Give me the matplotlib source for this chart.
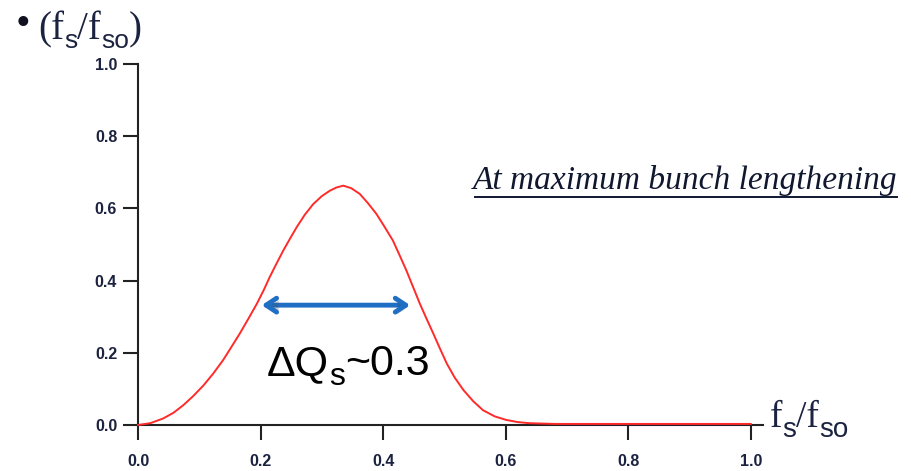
import matplotlib
matplotlib.use('Agg')
import matplotlib.pyplot as plt
import matplotlib.patheffects as pe
from matplotlib.lines import Line2D

# spectrum read at maximum bunch lengthening
fs_ratio = [0.0, 0.020, 0.041, 0.058, 0.074, 0.090, 0.107, 0.123, 0.139, 0.152,
            0.166, 0.180, 0.194, 0.205, 0.215, 0.226, 0.237, 0.248, 0.259, 0.272,
            0.286, 0.300, 0.313, 0.324, 0.335, 0.348, 0.362, 0.375, 0.389, 0.402,
            0.416, 0.427, 0.438, 0.449, 0.460, 0.471, 0.482, 0.493, 0.504, 0.517,
            0.531, 0.547, 0.563, 0.582, 0.601, 0.620, 0.639, 0.680, 0.800, 1.0]
density = [0.0, 0.005, 0.018, 0.034, 0.055, 0.080, 0.110, 0.143, 0.180, 0.215,
           0.253, 0.294, 0.336, 0.373, 0.410, 0.447, 0.483, 0.516, 0.548, 0.582,
           0.612, 0.634, 0.649, 0.658, 0.663, 0.656, 0.640, 0.615, 0.585, 0.550,
           0.511, 0.470, 0.428, 0.382, 0.336, 0.294, 0.253, 0.211, 0.170, 0.131,
           0.097, 0.066, 0.041, 0.024, 0.014, 0.008, 0.005, 0.003, 0.003, 0.003]
xticks = [0.0, 0.2, 0.4, 0.6, 0.8, 1.0]
yticks = [0.0, 0.2, 0.4, 0.6, 0.8, 1.0]
spread_lo, spread_hi, spread_y = 0.202, 0.444, 0.332

W, H = 911, 471
fig = plt.figure(figsize=(W / 100, H / 100), dpi=100)
ax = fig.add_axes([138 / W, 1 - 425 / H, 625 / W, 361 / H])
r = fig.canvas.get_renderer()

ax.plot(fs_ratio, density, color='#ff2a2a', lw=1.4, zorder=3, clip_on=False,
        solid_joinstyle='round')

ax.set_xlim(0, 1.02)
ax.set_ylim(0, 1.0)
ax.spines['top'].set_visible(False)
ax.spines['right'].set_visible(False)
for s in ('left', 'bottom'):
    ax.spines[s].set_linewidth(1.5)
    ax.spines[s].set_color('#222222')
ax.set_xticks(xticks)
ax.set_yticks(yticks)
ax.set_xticklabels(['%.1f' % v for v in xticks])
ax.set_yticklabels(['%.1f' % v for v in yticks])
ax.tick_params(axis='x', direction='out', length=11, width=1.5, pad=10,
               color='#222222', labelcolor='#1c2340')
ax.tick_params(axis='y', direction='out', length=11, width=1.5, pad=4,
               color='#222222', labelcolor='#1c2340')
for lab in ax.get_xticklabels() + ax.get_yticklabels():
    lab.set_fontfamily('Liberation Sans')
    lab.set_fontweight('bold')
    lab.set_fontsize(11.5)

# double arrow marking the width
ax.annotate('', xy=(spread_lo, spread_y), xytext=(spread_hi, spread_y),
            arrowprops=dict(arrowstyle='<->,head_length=0.75,head_width=0.5',
                            color='#1f6fc5', lw=3.5, shrinkA=0, shrinkB=0,
                            path_effects=[pe.SimplePatchShadow(offset=(1.5, -1.5), alpha=0.25),
                                          pe.Normal()]))


def chain(x, base, parts, color):
    # lay text pieces one after another, pixel coords from the top left
    for txt, size, fam, dy in parts:
        t = fig.text(x / W, 1 - (base + dy) / H, txt, fontsize=size, family=fam,
                     va='baseline', ha='left', color=color)
        x += t.get_window_extent(r).width


chain(267, 375, [('\u0394Q', 31, 'Liberation Sans', 0),
                 ('s', 23, 'Liberation Sans', 10),
                 ('~0.3', 31, 'Liberation Sans', 0)], 'black')

chain(38, 39, [('(f', 28, 'Liberation Serif', 0),
               ('s', 19, 'Liberation Sans', 9),
               ('/f', 28, 'Liberation Serif', 0),
               ('so', 19, 'Liberation Sans', 9),
               (')', 28, 'Liberation Serif', 0)], '#1c2340')
fig.text(23 / W, 1 - 25 / H, '\u2022', fontsize=30, family='Liberation Serif',
         ha='center', va='center', color='#101020')

chain(770, 427, [('f', 27, 'Liberation Serif', 0),
                 ('s', 20, 'Liberation Sans', 10),
                 ('/f', 27, 'Liberation Serif', 0),
                 ('so', 20, 'Liberation Sans', 10)], '#1c2340')

fig.text(897 / W, 1 - 189 / H, 'At maximum bunch lengthening', fontsize=24,
         family='Liberation Serif', style='italic', ha='right', va='baseline',
         color='#101830')
fig.add_artist(Line2D([475 / W, 897 / W], [1 - 197 / H, 1 - 197 / H],
                      color='#101830', lw=1.4))

fig.savefig('out.png', dpi=100)
